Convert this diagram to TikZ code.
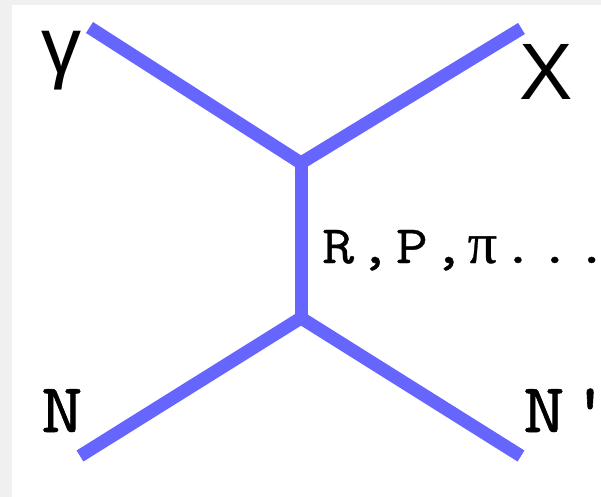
\documentclass[tikz,border=0pt]{standalone}
\usepackage{fontspec}
\setmainfont{Liberation Sans}
\newfontfamily\monoN{Latin Modern Mono}[LetterSpace=6.8,FakeStretch=1.15,FakeBold=0.8]
\newfontfamily\monoS{Latin Modern Mono}[LetterSpace=9,FakeStretch=1.15,FakeBold=0.7]
\newfontfamily\pifont{Liberation Serif}[FakeBold=0.5]
\definecolor{linecol}{RGB}{102,102,255}
\definecolor{bggray}{RGB}{240,240,240}
\tikzset{
  prop/.style={draw=linecol, line width=13bp, line cap=butt, line join=miter},
  sanslabel/.style={inner sep=0pt, anchor=base west, font=\fontsize{80bp}{80bp}\selectfont},
  monolabel/.style={inner sep=0pt, anchor=base west, font=\monoN\fontsize{70bp}{70bp}\selectfont},
  smallmono/.style={inner sep=0pt, anchor=base west, font=\monoS\fontsize{54bp}{54bp}\selectfont}
}
\begin{document}
\begin{tikzpicture}[x=1bp,y=-1bp]
  \useasboundingbox (0,0) rectangle (601,497);
  \fill[bggray] (0,0) rectangle (601,497);
  \fill[white] (12,5) rectangle (601,497);
  % vertices and free ends
  \coordinate (top) at (301,163);
  \coordinate (bot) at (301,318);
  \coordinate (gend) at (89.5,27.5);
  \coordinate (xend) at (521.5,28.5);
  \coordinate (nend) at (80,456);
  \coordinate (npend) at (521,456);
  % propagators
  \draw[prop] (gend) -- (top) -- (xend);
  \draw[prop] (top) -- (bot);
  \draw[prop] (nend) -- (bot) -- (npend);
  % labels
  \node[sanslabel] (lg) at (41,74) {γ};
  \node[sanslabel] (lx) at (519,100) {X};
  \node[smallmono] (lex) at (322,263) {R,P,\hspace{3bp}{\pifont\fontsize{58bp}{58bp}\selectfont π}\hspace{5bp}...};
  \node[monolabel] (ln) at (41,432) {N};
  \node[monolabel] (lnp) at (523,432) {N'};
\end{tikzpicture}
\end{document}
